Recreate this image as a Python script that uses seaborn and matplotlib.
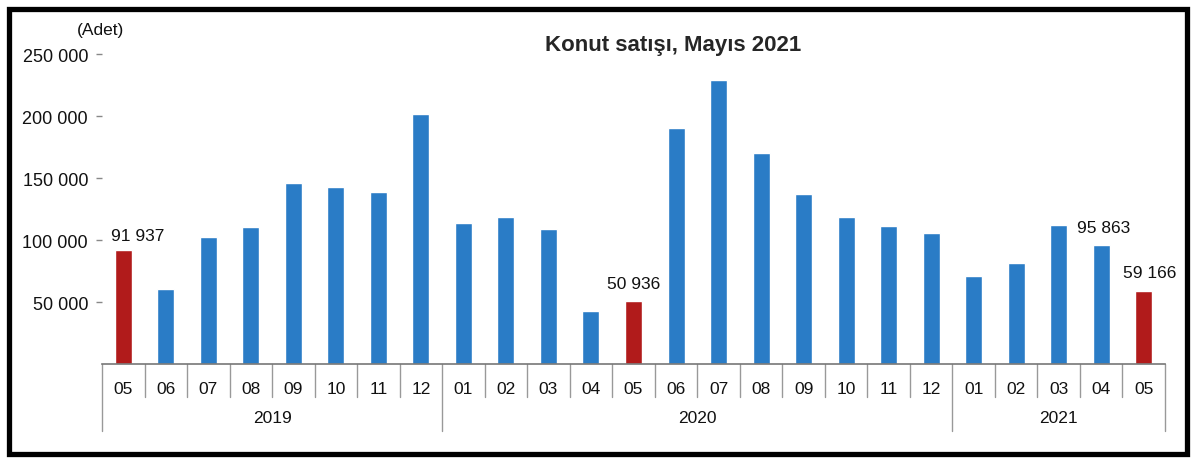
import matplotlib
matplotlib.use("Agg")
import matplotlib.pyplot as plt
import matplotlib.transforms as mtransforms
from matplotlib.patches import Rectangle
import seaborn as sns
import pandas as pd

# ---- data ----
periods = ["2019-05", "2019-06", "2019-07", "2019-08", "2019-09", "2019-10", "2019-11", "2019-12",
           "2020-01", "2020-02", "2020-03", "2020-04", "2020-05", "2020-06", "2020-07", "2020-08",
           "2020-09", "2020-10", "2020-11", "2020-12",
           "2021-01", "2021-02", "2021-03", "2021-04", "2021-05"]
months = ["05", "06", "07", "08", "09", "10", "11", "12",
          "01", "02", "03", "04", "05", "06", "07", "08", "09", "10", "11", "12",
          "01", "02", "03", "04", "05"]
sales = [91937, 60415, 102416, 110800, 146188, 142621, 138695, 201499,
         113615, 118753, 108670, 42783, 50936, 190012, 229357, 170043,
         137373, 118850, 111436, 105700,
         70903, 81526, 111873, 95863, 59166]
highlight = ["may", "other", "other", "other", "other", "other", "other", "other",
             "other", "other", "other", "other", "may", "other", "other", "other",
             "other", "other", "other", "other",
             "other", "other", "other", "other", "may"]
years = ["2019", "2020", "2021"]
year_counts = [8, 12, 5]
labelled = {"2019-05": "91 937", "2020-05": "50 936", "2021-04": "95 863", "2021-05": "59 166"}
yticks = [50000, 100000, 150000, 200000, 250000]
title = "Konut satışı, Mayıs 2021"
unit = "(Adet)"

df = pd.DataFrame({"period": periods, "sales": sales, "kind": highlight})

sns.set_style("white")
plt.rcParams["font.family"] = ["Liberation Sans", "DejaVu Sans"]

fig = plt.figure(figsize=(12, 4.64), dpi=100)
ax = fig.add_axes([102 / 1200, 1 - 365 / 464, (1165 - 102) / 1200, 310 / 464])

sns.barplot(data=df, x="period", y="sales", hue="kind",
            palette={"may": "#B11B1B", "other": "#2A7CC6"},
            width=0.4, dodge=False, legend=False, ax=ax, saturation=1)

ax.set_ylim(0, 250000)
ax.set_xlim(-0.5, len(periods) - 0.5)
ax.set_yticks(yticks)
ax.set_yticklabels([f"{v:,}".replace(",", " ") for v in yticks], fontsize=13, color="#111111")
ax.tick_params(axis="y", length=4, width=1, color="#888888", pad=6, left=True)
ax.set_xticks(range(len(periods)))
ax.set_xticklabels(months, fontsize=12.5, color="#111111")
ax.tick_params(axis="x", length=0, pad=12)
ax.set_xlabel("")
ax.set_ylabel("")
for s in ["top", "right", "left"]:
    ax.spines[s].set_visible(False)
ax.spines["bottom"].set_color("#777777")
ax.spines["bottom"].set_linewidth(1.2)

trans = mtransforms.blended_transform_factory(ax.transData, ax.transAxes)
# category separators
boundaries_year = [-0.5]
acc = -0.5
for c in year_counts:
    acc += c
    boundaries_year.append(acc)
for i in range(len(periods) + 1):
    xb = i - 0.5
    bottom = -0.216 if xb in boundaries_year else -0.106
    ax.plot([xb, xb], [0, bottom], transform=trans, color="#999999", lw=1, clip_on=False)

# year labels
start = 0
for yname, c in zip(years, year_counts):
    ax.text(start + (c - 1) / 2, -0.171, yname, transform=trans, ha="center", va="center",
            fontsize=12.5, color="#111111")
    start += c

# value labels
offsets = {"2019-05": (0.35, 12000), "2020-05": (0.0, 14000), "2021-04": (0.05, 14500), "2021-05": (0.15, 15000)}
for i, p in enumerate(periods):
    if p in labelled:
        dx, dy = offsets[p]
        ax.text(i + dx, sales[i] + dy, labelled[p], ha="center", va="center", fontsize=12.5, color="#111111")

fig.text(673 / 1200, 1 - 45 / 464, title, ha="center", va="center", fontsize=16, fontweight="bold")
fig.text(100 / 1200, 1 - 30 / 464, unit, ha="center", va="center", fontsize=12.5, color="#111111")

fig.patches.append(Rectangle((8.5 / 1200, 1 - 454.5 / 464), (1187 - 8.5) / 1200, (454.5 - 9.5) / 464,
                             transform=fig.transFigure, fill=False, edgecolor="black", linewidth=3.8))

fig.savefig("out.png", dpi=100, facecolor="white")
